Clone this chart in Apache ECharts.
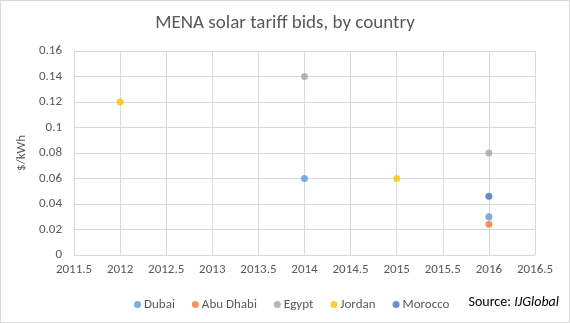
<!DOCTYPE html>
<html><head><meta charset="utf-8">
<script src="https://cdn.jsdelivr.net/npm/echarts@6/dist/echarts.min.js"></script>
<style>html,body{margin:0;padding:0;background:#fff}#c{width:570px;height:323px;box-sizing:border-box;border:1px solid #d9d9d9}</style>
</head><body><div id="c"></div>
<script>
const titleText = 'MENA solar tariff bids, by country';
const seriesNames = ['Dubai', 'Abu Dhabi', 'Egypt', 'Jordan', 'Morocco'];
const seriesColors = ['#5B9BD5', '#ED7D31', '#A5A5A5', '#FFC000', '#4472C4'];
const dubai = [[2014, 0.06], [2016, 0.03]];
const abuDhabi = [[2016, 0.0242]];
const egypt = [[2014, 0.14], [2016, 0.08]];
const jordan = [[2012, 0.12], [2015, 0.06]];
const morocco = [[2016, 0.046]];
const seriesData = [dubai, abuDhabi, egypt, jordan, morocco];

const chart = echarts.init(document.getElementById('c'));
const fontFam = 'Calibri, Carlito, Lato, "Open Sans", sans-serif';
chart.setOption({
  animation: false,
  textStyle: { fontFamily: fontFam },
  title: { text: titleText, left: 'center', top: 8, textStyle: { fontSize: 19, fontWeight: 'normal', color: '#595959', fontFamily: fontFam } },
  grid: { left: 73, right: 34, top: 50, bottom: 67, containLabel: false },
  legend: {
    data: seriesNames, left: 128, top: 292, icon: 'circle', itemWidth: 7, itemHeight: 7, itemGap: 17,
    textStyle: { fontSize: 13, color: '#595959', padding: [0, 0, 0, -2] }
  },
  xAxis: {
    type: 'value', min: 2011.5, max: 2016.5, interval: 0.5,
    axisLine: { show: true, lineStyle: { color: '#d9d9d9' } },
    axisTick: { show: false },
    splitLine: { show: true, lineStyle: { color: '#d9d9d9' } },
    axisLabel: { color: '#595959', fontSize: 13, margin: 8, formatter: v => String(Math.round(v * 10) / 10) }
  },
  yAxis: {
    type: 'value', min: 0, max: 0.16, interval: 0.02,
    name: '$/kWh', nameLocation: 'middle', nameGap: 36, nameRotate: 90,
    nameTextStyle: { color: '#595959', fontSize: 13 },
    axisLine: { show: true, lineStyle: { color: '#d9d9d9' } },
    axisTick: { show: false },
    splitLine: { show: true, lineStyle: { color: '#d9d9d9' } },
    axisLabel: { color: '#595959', fontSize: 13, margin: 12, formatter: v => String(Math.round(v * 100) / 100) }
  },
  series: seriesNames.map((n, i) => ({
    name: n, type: 'scatter', data: seriesData[i], symbol: 'circle', symbolSize: 7,
    itemStyle: { color: seriesColors[i] }
  })),
  graphic: [{
    type: 'text', right: 10, top: 294,
    style: {
      text: '{a|Source: }{b|IJGlobal}',
      rich: {
        a: { fontSize: 14, fill: '#000', fontFamily: fontFam },
        b: { fontSize: 14, fill: '#000', fontStyle: 'italic', fontFamily: fontFam }
      }
    }
  }]
});
</script></body></html>
